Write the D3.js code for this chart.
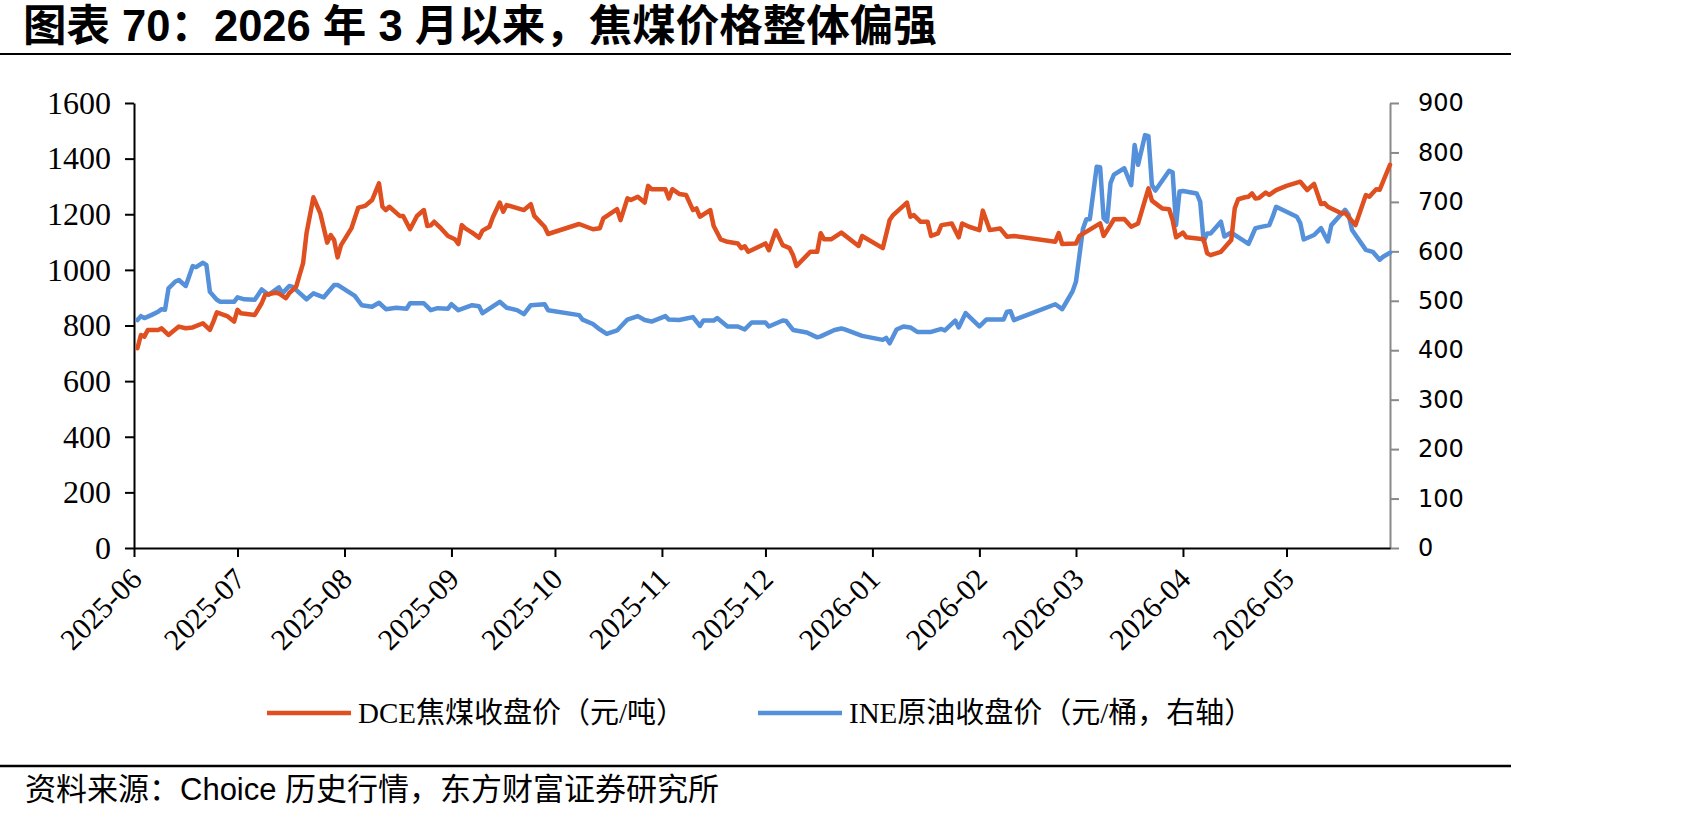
<!doctype html>
<html lang="zh">
<head>
<meta charset="utf-8">
<title>焦煤价格整体偏强</title>
<style>
body { margin: 0; background: #fff; }
</style>
</head>
<body>
<div id="chart"></div>
<script src="https://cdn.jsdelivr.net/npm/d3@7/dist/d3.min.js"></script>
<script>
// DCE 焦煤收盘价（元/吨），左轴
var cokeDates = [
  "2025-06-02","2025-06-03","2025-06-04","2025-06-05","2025-06-08","2025-06-09","2025-06-11","2025-06-14","2025-06-16","2025-06-18",
  "2025-06-21","2025-06-23","2025-06-24","2025-06-25","2025-06-28","2025-06-30","2025-07-01","2025-07-02","2025-07-06","2025-07-08",
  "2025-07-09","2025-07-12","2025-07-13","2025-07-15","2025-07-16","2025-07-18","2025-07-20","2025-07-21","2025-07-23","2025-07-25",
  "2025-07-27","2025-07-28","2025-07-29","2025-07-30","2025-07-31","2025-08-03","2025-08-05","2025-08-07","2025-08-09","2025-08-11",
  "2025-08-12","2025-08-13","2025-08-14","2025-08-17","2025-08-18","2025-08-20","2025-08-22","2025-08-24","2025-08-25","2025-08-26",
  "2025-08-27","2025-08-29","2025-08-31","2025-09-02","2025-09-03","2025-09-04","2025-09-05","2025-09-07","2025-09-09","2025-09-10",
  "2025-09-12","2025-09-13","2025-09-15","2025-09-16","2025-09-17","2025-09-22","2025-09-24","2025-09-25","2025-09-28","2025-09-29",
  "2025-10-08","2025-10-12","2025-10-14","2025-10-15","2025-10-19","2025-10-20","2025-10-22","2025-10-23","2025-10-25","2025-10-27",
  "2025-10-28","2025-10-29","2025-11-02","2025-11-03","2025-11-04","2025-11-06","2025-11-08","2025-11-10","2025-11-11","2025-11-12",
  "2025-11-15","2025-11-16","2025-11-18","2025-11-20","2025-11-23","2025-11-24","2025-11-25","2025-11-26","2025-12-01","2025-12-02",
  "2025-12-04","2025-12-06","2025-12-08","2025-12-09","2025-12-10","2025-12-14","2025-12-16","2025-12-17","2025-12-18","2025-12-20",
  "2025-12-23","2025-12-28","2025-12-29","2026-01-04","2026-01-06","2026-01-07","2026-01-11","2026-01-12","2026-01-13","2026-01-15",
  "2026-01-17","2026-01-18","2026-01-20","2026-01-21","2026-01-24","2026-01-26","2026-01-27","2026-01-29","2026-02-01","2026-02-02",
  "2026-02-04","2026-02-07","2026-02-09","2026-02-11","2026-02-23","2026-02-24","2026-02-25","2026-03-01","2026-03-02","2026-03-08",
  "2026-03-09","2026-03-11","2026-03-12","2026-03-15","2026-03-17","2026-03-19","2026-03-22","2026-03-23","2026-03-25","2026-03-26",
  "2026-03-28","2026-03-29","2026-03-30","2026-04-01","2026-04-02","2026-04-07","2026-04-08","2026-04-09","2026-04-12","2026-04-15",
  "2026-04-16","2026-04-17","2026-04-19","2026-04-20","2026-04-21","2026-04-22","2026-04-23","2026-04-25","2026-04-26","2026-04-28",
  "2026-05-01","2026-05-05","2026-05-07","2026-05-09","2026-05-11","2026-05-12","2026-05-13","2026-05-17","2026-05-18","2026-05-21",
  "2026-05-24","2026-05-25","2026-05-27","2026-05-28","2026-05-31"
];
var cokeValues = [
  718,766,760,784,784,790,766,796,790,793,
  808,784,814,847,834,814,856,844,838,880,
  910,918,915,898,916,940,1024,1132,1261,1203,
  1098,1125,1107,1045,1089,1149,1224,1230,1251,1311,
  1227,1215,1227,1194,1194,1146,1194,1215,1158,1160,
  1173,1149,1122,1110,1093,1161,1149,1134,1116,1141,
  1155,1189,1242,1209,1233,1215,1236,1194,1155,1129,
  1165,1146,1150,1185,1218,1179,1257,1251,1263,1242,
  1302,1290,1290,1257,1290,1273,1269,1215,1221,1191,
  1215,1158,1110,1101,1095,1078,1085,1065,1095,1071,
  1141,1089,1078,1053,1014,1065,1065,1132,1110,1110,
  1134,1086,1122,1078,1179,1197,1242,1191,1197,1173,
  1173,1122,1131,1161,1167,1117,1167,1155,1143,1213,
  1143,1149,1119,1122,1101,1132,1093,1095,1122,1167,
  1122,1161,1182,1183,1155,1167,1293,1249,1230,1221,
  1218,1179,1117,1134,1117,1110,1060,1053,1065,1107,
  1221,1254,1261,1263,1275,1257,1258,1278,1270,1287,
  1302,1317,1287,1309,1237,1240,1227,1203,1205,1161,
  1269,1263,1290,1288,1378
];

// INE 原油收盘价（元/桶），右轴
var oilDates = [
  "2025-06-02","2025-06-03","2025-06-04","2025-06-06","2025-06-08","2025-06-09","2025-06-10","2025-06-11","2025-06-13","2025-06-14",
  "2025-06-16","2025-06-18","2025-06-19","2025-06-21","2025-06-22","2025-06-23","2025-06-25","2025-06-26","2025-06-30","2025-07-01",
  "2025-07-03","2025-07-06","2025-07-08","2025-07-10","2025-07-13","2025-07-14","2025-07-16","2025-07-17","2025-07-21","2025-07-23",
  "2025-07-26","2025-07-29","2025-07-30","2025-08-04","2025-08-06","2025-08-09","2025-08-11","2025-08-13","2025-08-16","2025-08-19",
  "2025-08-20","2025-08-24","2025-08-26","2025-08-28","2025-08-31","2025-09-01","2025-09-03","2025-09-07","2025-09-09","2025-09-10",
  "2025-09-15","2025-09-17","2025-09-20","2025-09-22","2025-09-24","2025-09-28","2025-09-29","2025-10-08","2025-10-09","2025-10-12",
  "2025-10-14","2025-10-16","2025-10-19","2025-10-22","2025-10-25","2025-10-27","2025-10-29","2025-11-02","2025-11-03","2025-11-06",
  "2025-11-10","2025-11-12","2025-11-13","2025-11-16","2025-11-17","2025-11-20","2025-11-23","2025-11-25","2025-11-27","2025-12-01",
  "2025-12-02","2025-12-06","2025-12-07","2025-12-09","2025-12-13","2025-12-16","2025-12-17","2025-12-21","2025-12-23","2025-12-24",
  "2025-12-29","2026-01-04","2026-01-05","2026-01-06","2026-01-08","2026-01-10","2026-01-12","2026-01-14","2026-01-18","2026-01-21",
  "2026-01-22","2026-01-25","2026-01-26","2026-01-28","2026-02-01","2026-02-03","2026-02-08","2026-02-09","2026-02-10","2026-02-11",
  "2026-02-23","2026-02-25","2026-02-26","2026-02-28","2026-03-01","2026-03-03","2026-03-04","2026-03-05","2026-03-07","2026-03-08",
  "2026-03-09","2026-03-10","2026-03-11","2026-03-12","2026-03-15","2026-03-17","2026-03-18","2026-03-19","2026-03-21","2026-03-22",
  "2026-03-23","2026-03-24","2026-03-28","2026-03-29","2026-03-30","2026-03-31","2026-04-01","2026-04-05","2026-04-06","2026-04-07",
  "2026-04-08","2026-04-09","2026-04-12","2026-04-13","2026-04-15","2026-04-20","2026-04-21","2026-04-22","2026-04-24","2026-04-26",
  "2026-04-27","2026-04-28","2026-05-04","2026-05-05","2026-05-06","2026-05-09","2026-05-11","2026-05-13","2026-05-14","2026-05-18",
  "2026-05-19","2026-05-20","2026-05-24","2026-05-26","2026-05-28","2026-05-29","2026-05-31"
];
var oilValues = [
  461,469,465,471,478,483,482,525,539,542,
  530,570,568,577,572,518,502,498,498,507,
  503,502,523,512,527,515,530,528,503,515,
  507,532,532,510,491,488,496,483,486,484,
  495,495,481,485,484,493,481,491,489,475,
  498,486,481,473,491,493,481,471,462,453,
  442,433,440,462,469,461,458,469,462,461,
  467,449,460,460,465,448,448,442,456,456,
  448,460,459,441,436,426,428,441,444,442,
  429,421,425,414,442,448,446,437,437,443,
  440,460,446,475,448,462,462,478,479,461,
  493,483,495,519,539,645,665,665,771,770,
  667,660,738,755,768,734,815,775,835,833,
  734,723,763,760,653,721,722,717,700,620,
  636,636,660,630,638,615,631,647,650,653,
  670,690,670,657,624,633,647,620,653,684,
  674,643,603,599,583,589,597
];

var monthTicks = ["2025-06","2025-07","2025-08","2025-09","2025-10","2025-11","2025-12",
                  "2026-01","2026-02","2026-03","2026-04","2026-05"];
var leftTicks = [0, 200, 400, 600, 800, 1000, 1200, 1400, 1600];
var rightTicks = [0, 100, 200, 300, 400, 500, 600, 700, 800, 900];
var seriesNames = ["DCE焦煤收盘价（元/吨）", "INE原油收盘价（元/桶，右轴）"];
var seriesColors = ["#df4f1f", "#5590da"];

var W = 1701, H = 819;
var plotL = 134, plotR = 1390, plotT = 103, plotB = 548;

var parseDay = d3.timeParse("%Y-%m-%d"),
    parseMonth = d3.timeParse("%Y-%m");

var svg = d3.select("#chart").append("svg")
    .attr("width", W)
    .attr("height", H)
    .style("display", "block")
    .style("background", "#fff");

// title and rules
svg.append("text")
    .attr("x", 23)
    .attr("y", 41)
    .style("font-family", "'Liberation Sans', 'Noto Sans CJK SC', sans-serif")
    .style("font-weight", "bold")
    .style("font-size", "43.5px")
    .style("fill", "#000")
    .text("图表 70：2026 年 3 月以来，焦煤价格整体偏强");

svg.append("line")
    .attr("x1", 0).attr("x2", 1511)
    .attr("y1", 54).attr("y2", 54)
    .style("stroke", "#000").style("stroke-width", 2);

svg.append("line")
    .attr("x1", 0).attr("x2", 1511)
    .attr("y1", 766).attr("y2", 766)
    .style("stroke", "#000").style("stroke-width", 2.5);

svg.append("text")
    .attr("x", 25)
    .attr("y", 800)
    .style("font-family", "'Liberation Sans', 'Noto Sans CJK SC', sans-serif")
    .style("font-size", "31px")
    .style("fill", "#000")
    .text("资料来源：Choice 历史行情，东方财富证券研究所");

// scales
var x = d3.scaleTime()
    .domain([parseDay("2025-06-01"), parseDay("2026-05-31")])
    .range([plotL, plotR]);

var yL = d3.scaleLinear().domain([0, 1600]).range([plotB, plotT]);
var yR = d3.scaleLinear().domain([0, 900]).range([plotB, plotT]);

// axes
var gLeft = svg.append("g")
    .attr("transform", "translate(" + plotL + ",0)")
    .call(d3.axisLeft(yL).tickValues(leftTicks).tickFormat(d3.format("d"))
        .tickSize(9).tickSizeOuter(0).tickPadding(14));

var gRight = svg.append("g")
    .attr("transform", "translate(" + plotR + ",0)")
    .call(d3.axisRight(yR).tickValues(rightTicks).tickFormat(d3.format("d"))
        .tickSize(9).tickSizeOuter(0).tickPadding(19));

var gBottom = svg.append("g")
    .attr("transform", "translate(0," + plotB + ")")
    .call(d3.axisBottom(x)
        .tickValues(monthTicks.map(parseMonth))
        .tickFormat(d3.timeFormat("%Y-%m"))
        .tickSize(9)
        .tickSizeOuter(0));

gLeft.selectAll("path, line").style("stroke", "#000").style("stroke-width", 2);
gBottom.selectAll("path, line").style("stroke", "#000").style("stroke-width", 2);
gRight.selectAll("path, line").style("stroke", "#898989").style("stroke-width", 2);

gLeft.selectAll("text")
    .style("font-family", "'Liberation Serif', serif")
    .style("font-size", "32px")
    .style("fill", "#000");

gRight.selectAll("text")
    .style("font-family", "'DejaVu Sans', sans-serif")
    .style("font-size", "24px")
    .style("fill", "#000");

gBottom.selectAll("text")
    .attr("x", 0)
    .attr("y", 0)
    .attr("dy", 0)
    .attr("transform", "translate(9,33) rotate(-45)")
    .style("text-anchor", "end")
    .style("font-family", "'Liberation Serif', serif")
    .style("font-size", "30px")
    .style("fill", "#000");

// series
var coke = cokeDates.map(function(d, i) { return { date: parseDay(d), value: cokeValues[i] }; });
var oil = oilDates.map(function(d, i) { return { date: parseDay(d), value: oilValues[i] }; });

var cokeLine = d3.line()
    .x(function(d) { return x(d.date); })
    .y(function(d) { return yL(d.value); });

var oilLine = d3.line()
    .x(function(d) { return x(d.date); })
    .y(function(d) { return yR(d.value); });

svg.append("path")
    .datum(oil)
    .attr("d", oilLine)
    .style("fill", "none")
    .style("stroke", seriesColors[1])
    .style("stroke-width", 4.5)
    .style("stroke-linejoin", "round")
    .style("stroke-linecap", "round");

svg.append("path")
    .datum(coke)
    .attr("d", cokeLine)
    .style("fill", "none")
    .style("stroke", seriesColors[0])
    .style("stroke-width", 4.5)
    .style("stroke-linejoin", "round")
    .style("stroke-linecap", "round");

// legend
var legendItems = [
    { name: seriesNames[0], color: seriesColors[0], x: 267 },
    { name: seriesNames[1], color: seriesColors[1], x: 758 }
];

var legend = svg.append("g").attr("transform", "translate(0,713)");

legend.selectAll("line")
    .data(legendItems)
    .enter().append("line")
    .attr("x1", function(d) { return d.x; })
    .attr("x2", function(d) { return d.x + 84; })
    .attr("y1", 0).attr("y2", 0)
    .style("stroke", function(d) { return d.color; })
    .style("stroke-width", 4.5);

legend.selectAll("text")
    .data(legendItems)
    .enter().append("text")
    .attr("x", function(d) { return d.x + 91; })
    .attr("y", 10)
    .style("font-family", "'Liberation Serif', 'Noto Sans CJK SC', serif")
    .style("font-size", "29px")
    .style("fill", "#000")
    .text(function(d) { return d.name; });
</script>
</body>
</html>
